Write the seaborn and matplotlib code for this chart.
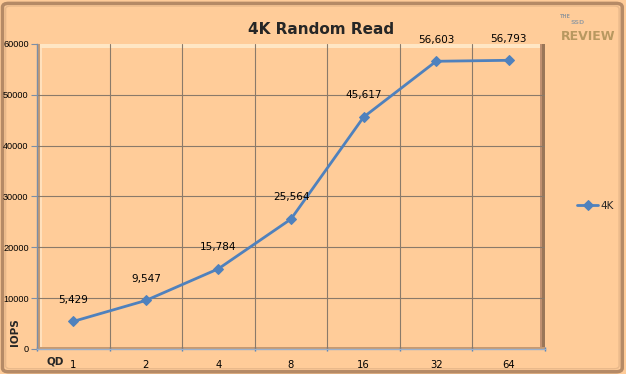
import matplotlib
matplotlib.use("Agg")
import matplotlib.pyplot as plt
import seaborn as sns
import pandas as pd
from matplotlib.patches import Rectangle, FancyBboxPatch

qd_labels = ["1", "2", "4", "8", "16", "32", "64"]
iops = [5429, 9547, 15784, 25564, 45617, 56603, 56793]
series_name = "4K"
y_ticks = [0, 10000, 20000, 30000, 40000, 50000, 60000]

df = pd.DataFrame({"pos": range(len(qd_labels)), "IOPS": iops, "series": series_name})

sns.set_theme(style="white")
plt.rcParams["font.family"] = ["DejaVu Sans"]

bg = "#ffcc99"
line_c = "#4f81bd"
grid_c = "#8a7a6a"

fig = plt.figure(figsize=(6.26, 3.74), dpi=100)
fig.patch.set_facecolor(bg)

# outer frame (drawn beneath the axes)
fig.patches.append(FancyBboxPatch((0.004, 0.006), 0.99, 0.985, boxstyle="round,pad=0,rounding_size=0.01",
                                  transform=fig.transFigure, fill=False, edgecolor="#b58a66", linewidth=2.5,
                                  zorder=-2))
fig.patches.append(FancyBboxPatch((0.009, 0.014), 0.98, 0.97, boxstyle="round,pad=0,rounding_size=0.008",
                                  transform=fig.transFigure, fill=False, edgecolor="#e8b88a", linewidth=1.0,
                                  zorder=-2))

ax = fig.add_axes([37/626, 1-349/374, (545-37)/626, (349-44)/374])
ax.set_facecolor(bg)

sns.lineplot(data=df, x="pos", y="IOPS", hue="series", palette=[line_c], marker="D",
             markersize=5, markeredgecolor=line_c, linewidth=2, ax=ax)

ax.set_xlim(-0.5, len(qd_labels) - 0.5)
ax.set_ylim(0, 60000)

# bevel wall effect
ax.add_patch(Rectangle((0.0, 0.0), 0.005, 1.0, transform=ax.transAxes, color="#c89a70", zorder=0.5, lw=0))
ax.add_patch(Rectangle((0.005, 0.988), 0.985, 0.012, transform=ax.transAxes, color="#ffe6c4", zorder=0.5, lw=0))
ax.add_patch(Rectangle((0.005, 0.0), 0.004, 0.988, transform=ax.transAxes, color="#ffe0bc", zorder=0.5, lw=0))
ax.add_patch(Rectangle((0.990, 0.0), 0.005, 1.0, transform=ax.transAxes, color="#c09070", zorder=0.5, lw=0))
ax.add_patch(Rectangle((0.995, 0.0), 0.005, 1.0, transform=ax.transAxes, color="#9a7658", zorder=0.5, lw=0))
ax.add_patch(Rectangle((0.0, 0.0), 1.0, 0.008, transform=ax.transAxes, color="#c89a70", zorder=0.5, lw=0))

# grid
for yv in y_ticks[1:-1]:
    ax.axhline(yv, color=grid_c, lw=0.8, zorder=1)
for xb in range(len(qd_labels) - 1):
    ax.axvline(xb + 0.5, color=grid_c, lw=0.8, zorder=1)

for s in ["top", "right"]:
    ax.spines[s].set_visible(False)
ax.spines["left"].set_color("#7a8ea8")
ax.spines["bottom"].set_color("#9ab0cc")
ax.spines["left"].set_linewidth(1)
ax.spines["bottom"].set_linewidth(1)

ax.set_yticks(y_ticks)
ax.set_yticklabels([str(v) for v in y_ticks], family=["Liberation Sans", "DejaVu Sans"])
ax.set_xticks(range(len(qd_labels)))
ax.set_xticklabels(qd_labels)
ax.tick_params(axis="y", length=4, width=0.8, color="#7a8ea8", pad=2, labelcolor="black", labelsize=6.6,
               left=True)
ax.tick_params(axis="x", length=0, pad=8, labelcolor="black", labelsize=7.2)
ax.set_xticks([i + 0.5 for i in range(-1, len(qd_labels))], minor=True)
ax.tick_params(axis="x", which="minor", length=3, color=line_c, direction="inout", bottom=True)
ax.set_xlabel("")
ax.set_ylabel("")

for i, v in enumerate(iops):
    ax.annotate(f"{v:,}", (i, v), xytext=(0, 12), textcoords="offset points",
                ha="center", va="bottom", fontsize=7.5, color="black")

leg = ax.legend(loc="center left", bbox_to_anchor=(1.045, 0.47), frameon=False, fontsize=7.5,
                handlelength=2.0, handletextpad=0.2)

fig.text(0.513, 1-30/374, "4K Random Read", ha="center", va="center", fontsize=11, fontweight="bold")
fig.text(15/626, 1-332/374, "IOPS", rotation=90, ha="center", va="center", fontsize=7.5, fontweight="bold")
fig.text(55/626, 1-362/374, "QD", ha="center", va="center", fontsize=7.5, fontweight="bold")

# watermark logo
fig.text(560/626, 1-17/374, "THE", fontsize=3.5, color="#9a9a9a", ha="left", va="center", fontweight="bold")
fig.text(578/626, 1-23/374, "SSD", fontsize=4.5, color="#a0a0a0", ha="center", va="center", fontweight="bold")
fig.text(588/626, 1-36/374, "REVIEW", fontsize=9, color="#b89860", ha="center", va="center", fontweight="bold")

fig.savefig("out.png", dpi=100, facecolor=fig.get_facecolor())
